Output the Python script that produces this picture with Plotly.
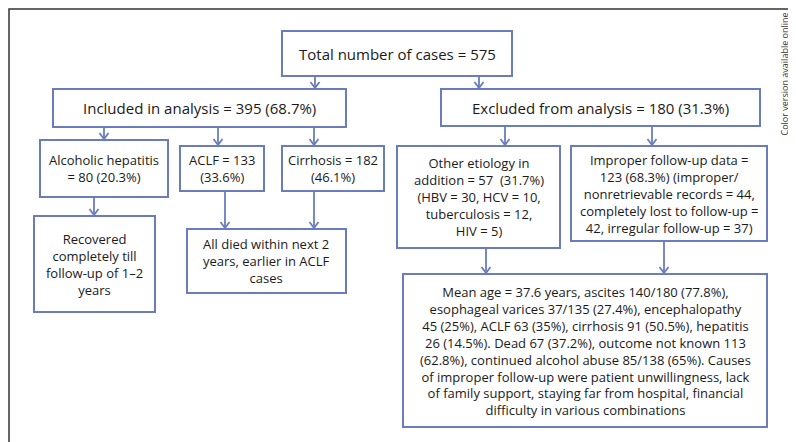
import plotly.graph_objects as go

# flowchart content
box_names = ["total", "included", "excluded", "alc_hep", "aclf", "cirrhosis",
             "other", "improper", "recovered", "died", "summary"]
box_texts = [
    "Total number of cases = 575",
    "Included in analysis = 395 (68.7%)",
    "Excluded from analysis = 180 (31.3%)",
    "Alcoholic hepatitis<br>= 80 (20.3%)",
    "ACLF = 133<br>(33.6%)",
    "Cirrhosis = 182<br>(46.1%)",
    "Other etiology in<br>addition = 57  (31.7%)<br>(HBV = 30, HCV = 10,<br>tuberculosis = 12,<br>HIV = 5)",
    "Improper follow-up data =<br>123 (68.3%) (improper/<br>nonretrievable records = 44,<br>completely lost to follow-up =<br>42, irregular follow-up = 37)",
    "Recovered<br>completely till<br>follow-up of 1\u20132<br>years",
    "All died within next 2<br>years, earlier in ACLF<br>cases",
    "Mean age = 37.6 years, ascites 140/180 (77.8%),<br>esophageal varices 37/135 (27.4%), encephalopathy<br>"
    "45 (25%), ACLF 63 (35%), cirrhosis 91 (50.5%), hepatitis<br>26 (14.5%). Dead 67 (37.2%), outcome not known 113<br>"
    "(62.8%), continued alcohol abuse 85/138 (65%). Causes<br>of improper follow-up were patient unwillingness, lack<br>"
    "of family support, staying far from hospital, financial<br>difficulty in various combinations",
]
# links between boxes (from, to)
links = [("total", "included"), ("total", "excluded"),
         ("included", "alc_hep"), ("included", "aclf"), ("included", "cirrhosis"),
         ("excluded", "other"), ("excluded", "improper"),
         ("alc_hep", "recovered"), ("aclf", "died"), ("cirrhosis", "died"),
         ("other", "summary"), ("improper", "summary")]

# layout (pixel space): x0, y0, x1, y1
box_pos = {
    "total": (274, 23, 504, 68),
    "included": (45, 81, 338, 119),
    "excluded": (433, 81, 752, 118),
    "alc_hep": (32, 132, 160, 189),
    "aclf": (172, 138, 256, 183),
    "cirrhosis": (274, 138, 376, 183),
    "other": (389, 138, 552, 240),
    "improper": (563, 138, 759, 233),
    "recovered": (26, 208, 147, 304),
    "died": (179, 221, 338, 285),
    "summary": (395, 266, 759, 419),
}
big_boxes = {"total", "included", "excluded"}
link_x = [307, 471, 96, 210, 306, 497, 644, 86, 217, 306, 478, 656]

W, H = 796, 442
blue = "#6b7cbd"

fig = go.Figure()

for name, text in zip(box_names, box_texts):
    x0, y0, x1, y1 = box_pos[name]
    fig.add_shape(type="rect", x0=x0, y0=y0, x1=x1, y1=y1,
                  line=dict(color=blue, width=2), fillcolor="white", layer="below")
    fig.add_annotation(x=(x0 + x1) / 2, y=(y0 + y1) / 2, text=text, showarrow=False,
                       xanchor="center", yanchor="middle", align="center",
                       font=dict(size=15 if name in big_boxes else 13, color="#1a1a1a"))

# arrows
ax, ay = [], []
for (src, dst), x in zip(links, link_x):
    y_start = box_pos[src][3]
    y_end = box_pos[dst][1]
    ax += [x, x, None, x - 4.5, x, x + 4.5, None]
    ay += [y_start, y_end - 1, None, y_end - 7, y_end - 1, y_end - 7, None]
fig.add_trace(go.Scatter(x=ax, y=ay, mode="lines", line=dict(color=blue, width=1.8),
                         hoverinfo="skip", showlegend=False))

# outer frame
fig.add_shape(type="rect", x0=1, y0=1, x1=783, y1=440,
              line=dict(color="#333333", width=1.5), layer="below")

fig.add_annotation(x=775.5, y=66, xanchor="center", yanchor="middle",
                   text="Color version available online", textangle=-90,
                   showarrow=False, borderpad=0,
                   font=dict(size=9, color="#333333"))

fig.update_xaxes(range=[0, W], visible=False, fixedrange=True)
fig.update_yaxes(range=[H, 0], visible=False, fixedrange=True)
fig.update_layout(width=W, height=H, margin=dict(l=0, r=0, t=0, b=0),
                  plot_bgcolor="white", paper_bgcolor="white",
                  font=dict(family="Open Sans, sans-serif"))

fig.write_html("out.html")
